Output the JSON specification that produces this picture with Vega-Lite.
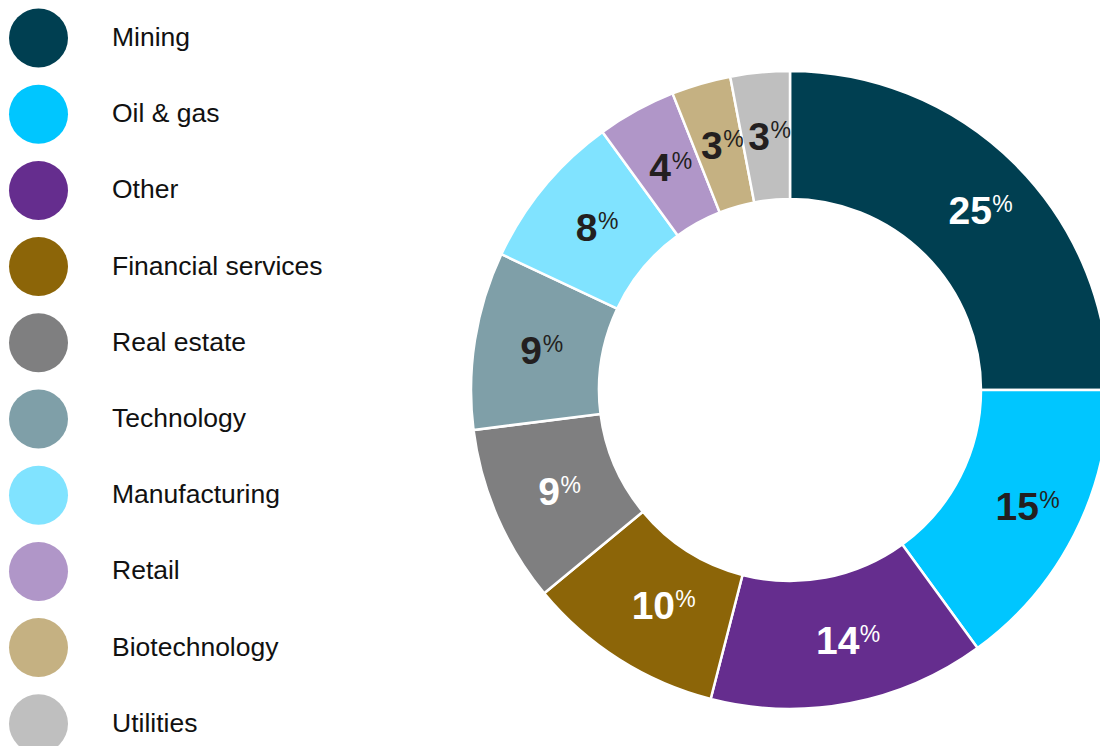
{
  "$schema": "https://vega.github.io/schema/vega-lite/v6.json",
  "width": 620,
  "height": 640,
  "autosize": {"type": "none"},
  "padding": {"left": 480, "top": 70, "right": 0, "bottom": 36},
  "background": "white",
  "config": {"view": {"stroke": null}, "font": "Liberation Sans"},
  "data": {
    "values": [
      {"sector": "Mining", "value": 25, "rank": 1},
      {"sector": "Oil & gas", "value": 15, "rank": 2},
      {"sector": "Other", "value": 14, "rank": 3},
      {"sector": "Financial services", "value": 10, "rank": 4},
      {"sector": "Real estate", "value": 9, "rank": 5},
      {"sector": "Technology", "value": 9, "rank": 6},
      {"sector": "Manufacturing", "value": 8, "rank": 7},
      {"sector": "Retail", "value": 4, "rank": 8},
      {"sector": "Biotechnology", "value": 3, "rank": 9},
      {"sector": "Utilities", "value": 3, "rank": 10}
    ]
  },
  "encoding": {
    "theta": {"field": "value", "type": "quantitative", "stack": true},
    "order": {"field": "rank", "type": "quantitative"}
  },
  "layer": [
    {
      "mark": {"type": "arc", "outerRadius": 319, "innerRadius": 191, "stroke": "white", "strokeWidth": 2.5},
      "encoding": {
        "color": {
          "field": "sector",
          "type": "nominal",
          "scale": {
            "domain": ["Mining", "Oil & gas", "Other", "Financial services", "Real estate", "Technology", "Manufacturing", "Retail", "Biotechnology", "Utilities"],
            "range": ["#003f51", "#00c6ff", "#652d8e", "#8c6508", "#7f7f80", "#7f9fa8", "#80e3ff", "#b096c8", "#c5b182", "#bfbfbf"]
          },
          "legend": {
            "title": null,
            "orient": "none",
            "legendX": -471,
            "legendY": -61.5,
            "symbolType": "circle",
            "symbolSize": 3481,
            "symbolStrokeWidth": 0,
            "symbolOpacity": 1,
            "labelFontSize": 26.5,
            "labelFont": "Liberation Sans",
            "labelColor": "#111111",
            "labelOffset": 44,
            "rowPadding": 17.2,
            "padding": 0,
            "labelLimit": 400
          }
        }
      }
    },
    {
      "mark": {"type": "text", "radius": 255, "font": "Liberation Sans", "fontWeight": "bold", "fontSize": 39, "align": "center", "baseline": "middle", "dy": 2},
      "encoding": {
        "text": {"field": "value", "type": "quantitative"},
        "color": {"condition": {"test": "indexof(['Mining','Other','Financial services','Real estate'], datum.sector) >= 0", "value": "white"}, "value": "#231f20"},
        "opacity": {"condition": {"test": "datum.value >= 10", "value": 1}, "value": 0}
      }
    },
    {
      "mark": {"type": "text", "radius": 255, "font": "Liberation Sans", "fontWeight": "bold", "fontSize": 39, "align": "center", "baseline": "middle", "dx": -7, "dy": 2},
      "encoding": {
        "text": {"field": "value", "type": "quantitative"},
        "color": {"condition": {"test": "indexof(['Mining','Other','Financial services','Real estate'], datum.sector) >= 0", "value": "white"}, "value": "#231f20"},
        "opacity": {"condition": {"test": "datum.value < 10", "value": 1}, "value": 0}
      }
    },
    {
      "mark": {"type": "text", "radius": 255, "font": "Liberation Sans", "fontSize": 23, "align": "left", "baseline": "middle", "dx": 22, "dy": -5},
      "encoding": {
        "text": {"value": "%"},
        "color": {"condition": {"test": "indexof(['Mining','Other','Financial services','Real estate'], datum.sector) >= 0", "value": "white"}, "value": "#231f20"},
        "opacity": {"condition": {"test": "datum.value >= 10", "value": 1}, "value": 0}
      }
    },
    {
      "mark": {"type": "text", "radius": 255, "font": "Liberation Sans", "fontSize": 23, "align": "left", "baseline": "middle", "dx": 4.5, "dy": -5},
      "encoding": {
        "text": {"value": "%"},
        "color": {"condition": {"test": "indexof(['Mining','Other','Financial services','Real estate'], datum.sector) >= 0", "value": "white"}, "value": "#231f20"},
        "opacity": {"condition": {"test": "datum.value < 10", "value": 1}, "value": 0}
      }
    }
  ]
}
